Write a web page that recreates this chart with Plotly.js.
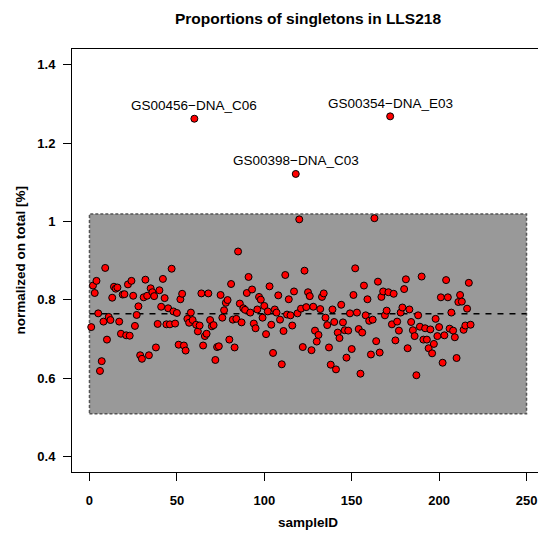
<!DOCTYPE html>
<html>
<head>
<meta charset="utf-8">
<script src="https://cdn.plot.ly/plotly-3.0.1.min.js"></script>
<style>
html, body { margin: 0; padding: 0; overflow: hidden; background: #fff; }
#chart { width: 544px; height: 538px; }
</style>
</head>
<body>
<div id="chart"></div>
<script>
const sampleID = [
  1,2,3,4,5,6,7,8,9,10,11,12,13,14,15,16,17,18,19,20,
  21,22,23,24,25,26,27,28,29,30,31,32,33,34,35,36,37,38,39,40,
  41,42,43,44,45,46,47,48,49,50,51,52,53,54,55,56,57,58,59,60,
  61,62,63,64,65,66,67,68,69,70,71,72,73,74,75,76,77,78,79,80,
  81,82,83,84,85,86,87,88,89,90,91,92,93,94,95,96,97,98,99,100,
  101,102,103,104,105,106,107,108,109,110,111,112,113,114,115,116,117,118,119,120,
  121,122,123,124,125,126,127,128,129,130,131,132,133,134,135,136,137,138,139,140,
  141,142,143,144,145,146,147,148,149,150,151,152,153,154,155,156,157,158,159,160,
  161,162,163,164,165,166,167,168,169,170,171,172,173,174,175,176,177,178,179,180,
  181,182,183,184,185,186,187,188,189,190,191,192,193,194,195,196,197,198,199,200,
  201,202,203,204,205,206,207,208,209,210,211,212,213,214,215,216,217,218
];
const proportion = [
  0.730,0.836,0.817,0.848,0.765,0.618,0.643,0.744,0.881,0.698,
  0.756,0.748,0.805,0.833,0.828,0.831,0.744,0.713,0.813,0.814,
  0.709,0.839,0.708,0.848,0.810,0.733,0.761,0.783,0.658,0.649,
  0.806,0.851,0.810,0.658,0.829,0.819,0.809,0.678,0.738,0.824,
  0.782,0.853,0.804,0.737,0.778,0.737,0.879,0.770,0.739,0.766,
  0.685,0.801,0.815,0.683,0.670,0.751,0.741,0.767,0.748,1.262,
  0.736,0.719,0.734,0.816,0.683,0.707,0.713,0.816,0.748,0.732,
  0.735,0.646,0.679,0.681,0.812,0.754,0.773,0.792,0.799,0.698,
  0.840,0.749,0.678,0.751,0.923,0.790,0.742,0.778,0.774,0.817,
  0.858,0.767,0.826,0.739,0.727,0.775,0.807,0.800,0.754,0.784,
  0.712,0.770,0.834,0.736,0.664,0.775,0.767,0.811,0.749,0.635,
  0.720,0.863,0.762,0.801,0.760,0.734,0.821,1.121,0.765,1.005,
  0.777,0.679,0.874,0.781,0.819,0.809,0.671,0.782,0.721,0.693,
  0.710,0.776,0.807,0.816,0.754,0.735,0.678,0.634,0.775,0.743,
  0.622,0.716,0.702,0.787,0.742,0.722,0.652,0.721,0.765,0.674,
  0.812,0.880,0.767,0.725,0.611,0.716,0.836,0.760,0.801,0.746,
  0.660,0.749,1.008,0.694,0.846,0.665,0.807,0.821,0.760,0.772,
  0.819,1.268,0.737,0.815,0.696,0.744,0.721,0.767,0.780,0.827,
  0.852,0.676,0.775,0.743,0.722,0.707,0.607,0.760,0.731,0.859,
  0.698,0.727,0.698,0.676,0.724,0.663,0.687,0.751,0.707,0.730,
  0.806,0.639,0.709,0.850,0.806,0.726,0.767,0.721,0.704,0.651,
  0.794,0.812,0.795,0.723,0.734,0.777,0.843,0.736
];
const outlierIDs = [60, 118, 172];
const outlierNames = ["GS00456\u2212DNA_C06", "GS00398\u2212DNA_C03", "GS00354\u2212DNA_E03"];
const meanValue = 0.764;
const bandLow = 0.509;
const bandHigh = 1.019;
const bandStart = 0;
const bandEnd = 250;
const xTicks = [0, 50, 100, 150, 200, 250];
const yTicks = [0.4, 0.6, 0.8, 1.0, 1.2, 1.4];
const yTickText = ["0.4", "0.6", "0.8", "1", "1.2", "1.4"];

const FONT = "Liberation Sans, Arial, Helvetica, sans-serif";

const labelAnnotations = outlierIDs.map((id, k) => {
  const i = sampleID.indexOf(id);
  return {
    x: sampleID[i], y: proportion[i], xref: 'x', yref: 'y',
    text: outlierNames[k], showarrow: false,
    xanchor: 'center', yanchor: 'middle', yshift: 13,
    font: { family: FONT, size: 13.5, color: '#000' }
  };
});

const traces = [
  {
    type: 'scatter', mode: 'markers',
    x: sampleID, y: proportion,
    marker: { color: '#ff0000', size: 7, line: { color: '#000', width: 1 } },
    hoverinfo: 'x+y', showlegend: false
  }
];

const layout = {
  width: 544, height: 538,
  margin: { l: 72, r: 0, t: 49, b: 66 },
  paper_bgcolor: '#fff', plot_bgcolor: '#fff',
  showlegend: false,
  title: {
    text: 'Proportions of singletons in LLS218',
    font: { family: FONT, size: 15.5, weight: 'bold', color: '#000' },
    x: 0.5, xref: 'paper', xanchor: 'center',
    y: 1 - 19 / 538, yref: 'container', yanchor: 'middle'
  },
  xaxis: {
    range: [-10, 260],
    tickvals: xTicks,
    ticks: 'outside', ticklen: 8, tickwidth: 1, tickcolor: '#000',
    showline: true, mirror: true, linecolor: '#000', linewidth: 1,
    showgrid: false, zeroline: false,
    tickfont: { family: FONT, size: 13, weight: 'bold', color: '#000' },
    ticklabelstandoff: 8
  },
  yaxis: {
    range: [0.36, 1.44],
    tickvals: yTicks, ticktext: yTickText,
    ticks: 'outside', ticklen: 8, tickwidth: 1, tickcolor: '#000',
    showline: true, mirror: true, linecolor: '#000', linewidth: 1,
    showgrid: false, zeroline: false,
    tickfont: { family: FONT, size: 13, weight: 'bold', color: '#000' },
    ticklabelstandoff: 5
  },
  shapes: [
    {
      type: 'rect', layer: 'below', xref: 'x', yref: 'y',
      x0: bandStart, x1: bandEnd, y0: bandLow, y1: bandHigh,
      fillcolor: '#999999',
      line: { color: '#555555', width: 1.5, dash: '3px,2px' }
    },
    {
      type: 'line', layer: 'below', xref: 'x', yref: 'y',
      x0: bandStart, x1: bandEnd, y0: meanValue, y1: meanValue,
      line: { color: '#000', width: 1.5, dash: '6px,6px' }
    }
  ],
  annotations: labelAnnotations.concat([
    {
      text: 'sampleID', xref: 'paper', yref: 'paper', x: 0.5, y: -(522 - 472) / 423,
      xanchor: 'center', yanchor: 'middle', showarrow: false,
      font: { family: FONT, size: 13.5, weight: 'bold', color: '#000' }
    },
    {
      text: 'normalized on total [%]', xref: 'paper', yref: 'paper',
      x: (20 - 72) / 472, y: 0.5, textangle: -90,
      xanchor: 'center', yanchor: 'middle', showarrow: false,
      font: { family: FONT, size: 13.5, weight: 'bold', color: '#000' }
    }
  ])
};

Plotly.newPlot('chart', traces, layout, { displayModeBar: false, staticPlot: true });
</script>
</body>
</html>
